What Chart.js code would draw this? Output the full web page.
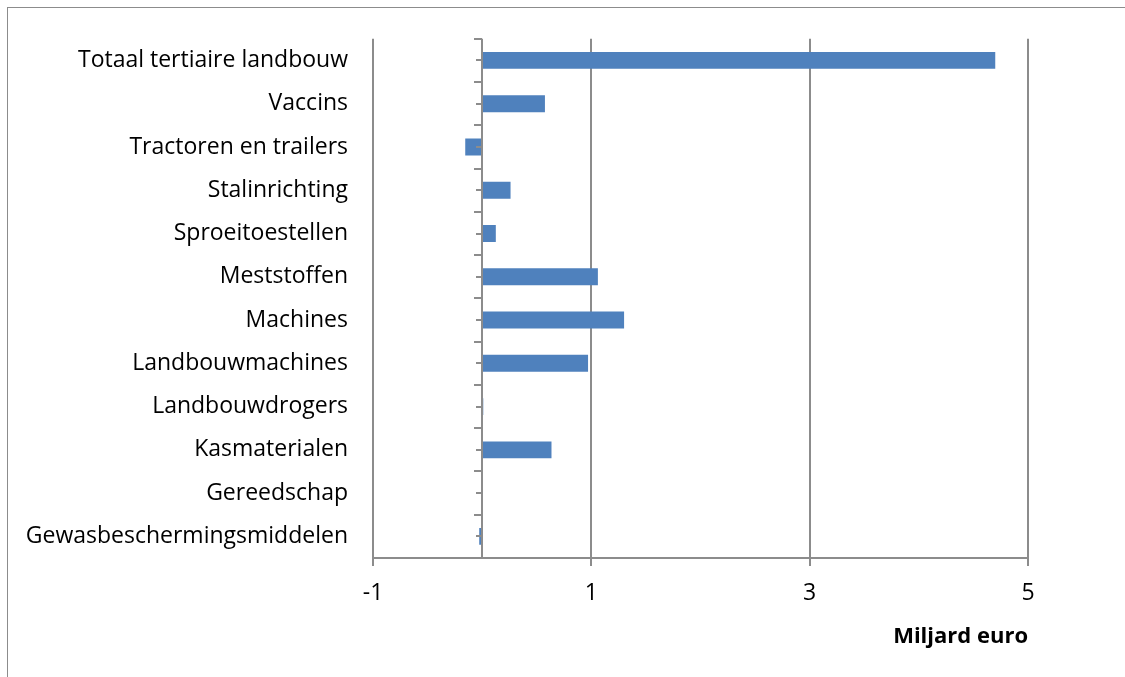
<!DOCTYPE html>
<html>
<head>
<meta charset="utf-8">
<script src="https://cdn.jsdelivr.net/npm/chart.js@4/dist/chart.umd.min.js"></script>
<style>
    html, body { margin: 0; padding: 0; background: #fff; overflow: hidden; }
    #wrap { position: relative; width: 1125px; height: 677px; }
    #frame { position: absolute; left: 7px; top: 7px; width: 1130px; height: 690px; border: 1px solid #8c8c8c; box-sizing: border-box; }
    #chart { position: absolute; left: 0; top: 0; }
</style>
</head>
<body>
<div id="wrap">
    <div id="frame"></div>
    <canvas id="chart" width="1125" height="677"></canvas>
</div>
<script>
// categories, top to bottom
const categories = [
    'Totaal tertiaire landbouw',
    'Vaccins',
    'Tractoren en trailers',
    'Stalinrichting',
    'Sproeitoestellen',
    'Meststoffen',
    'Machines',
    'Landbouwmachines',
    'Landbouwdrogers',
    'Kasmaterialen',
    'Gereedschap',
    'Gewasbeschermingsmiddelen'
];
// Miljard euro
const values = [4.70, 0.575, -0.155, 0.26, 0.125, 1.06, 1.30, 0.97, 0.01, 0.635, -0.008, -0.027];
const xTicks = [-1, 1, 3, 5];

const fontFamily = "'Open Sans', sans-serif";

// zero line with category tick marks (drawn over the bars)
const zeroAxis = {
    id: 'zeroAxis',
    afterDatasetsDraw(chart) {
        const ctx = chart.ctx;
        const x0 = Math.round(chart.scales.x.getPixelForValue(0));
        const area = chart.chartArea;
        const y = chart.scales.y;
        const step = (area.bottom - area.top) / categories.length;
        ctx.save();
        ctx.strokeStyle = '#8c8c8c';
        ctx.lineWidth = 2;
        ctx.beginPath();
        ctx.moveTo(x0, area.top);
        ctx.lineTo(x0, area.bottom);
        for (let i = 0; i <= categories.length; i++) {
            const yy = Math.round(area.top + i * step);
            ctx.moveTo(x0 - 8, yy);
            ctx.lineTo(x0, yy);
        }
        for (let i = 0; i < categories.length; i++) {
            const yy = Math.round(y.getPixelForValue(i));
            ctx.moveTo(x0 - 6, yy);
            ctx.lineTo(x0, yy);
        }
        ctx.stroke();
        ctx.restore();
    }
};

const ctx = document.getElementById('chart').getContext('2d');
new Chart(ctx, {
    type: 'bar',
    data: {
        labels: categories,
        datasets: [{
            data: values,
            backgroundColor: '#4f81bd',
            borderWidth: 0,
            barPercentage: 0.39,
            categoryPercentage: 1
        }]
    },
    options: {
        indexAxis: 'y',
        responsive: false,
        animation: false,
        layout: { padding: { top: 36, right: 97, bottom: 0, left: 0 } },
        plugins: { legend: { display: false }, tooltip: { enabled: false } },
        scales: {
            x: {
                min: -1,
                max: 5,
                afterBuildTicks: scale => { scale.ticks = xTicks.map(v => ({ value: v })); },
                afterFit: scale => { scale.height = 119; },
                grid: { color: '#8c8c8c', lineWidth: 2, drawTicks: true, tickLength: 8 },
                border: { color: '#8c8c8c', width: 2 },
                ticks: { color: '#000', padding: 14, font: { family: fontFamily, size: 23 } },
                title: {
                    display: true,
                    text: 'Miljard euro',
                    align: 'end',
                    color: '#000',
                    padding: { top: 0, bottom: 27 },
                    font: { family: fontFamily, size: 22, weight: 'bold' }
                }
            },
            y: {
                afterFit: scale => { scale.width = 373; },
                grid: { display: false, drawTicks: false },
                border: { display: false },
                ticks: { color: '#000', padding: 25, font: { family: fontFamily, size: 23 } }
            }
        }
    },
    plugins: [zeroAxis]
});
</script>
</body>
</html>
